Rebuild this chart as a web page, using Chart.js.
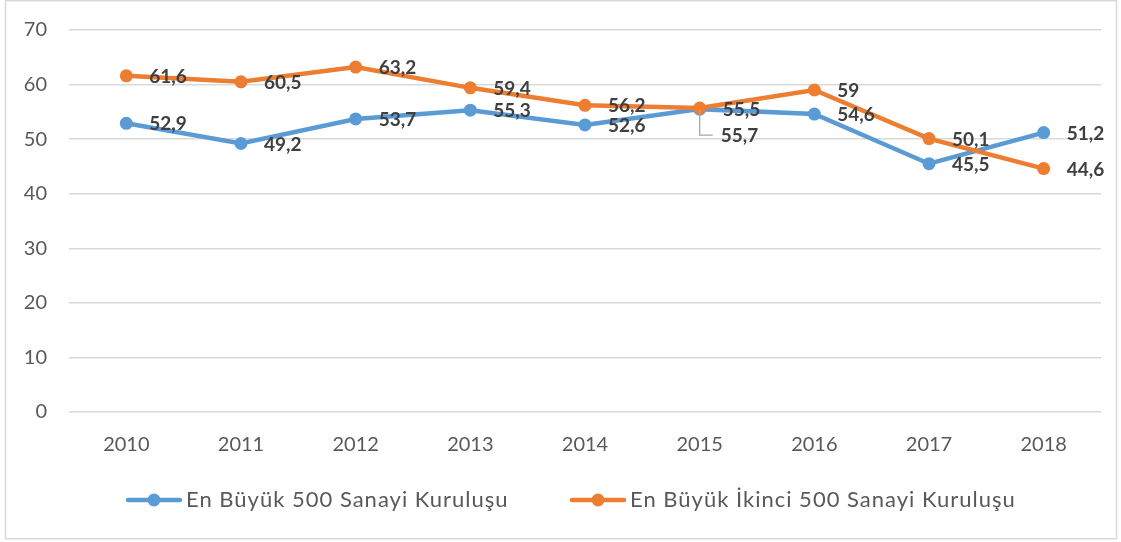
<!DOCTYPE html>
<html>
<head>
<meta charset="utf-8">
<script src="https://cdn.jsdelivr.net/npm/chart.js@4"></script>
<style>
  html, body { margin: 0; padding: 0; background: #fff; }
  #wrap { width: 1121px; height: 542px; }
</style>
</head>
<body>
<div id="wrap"><canvas id="c" width="1121" height="542"></canvas></div>
<script>
const years = ['2010', '2011', '2012', '2013', '2014', '2015', '2016', '2017', '2018'];
const top500 = [52.9, 49.2, 53.7, 55.3, 52.6, 55.5, 54.6, 45.5, 51.2];
const second500 = [61.6, 60.5, 63.2, 59.4, 56.2, 55.7, 59, 50.1, 44.6];
const seriesNames = ['En Büyük 500 Sanayi Kuruluşu', 'En Büyük İkinci 500 Sanayi Kuruluşu'];
const yMin = 0, yMax = 70, yStep = 10;

const BLUE = '#5B9BD5';
const ORANGE = '#ED7D31';
const FONT = 'Lato, "Open Sans", sans-serif';
const LEGEND_FONT = 'Lato, "Open Sans", sans-serif';

function fmt(v) { return String(v).replace('.', ','); }

const frame = {
  id: 'frame',
  beforeDraw(chart) {
    const ctx = chart.ctx;
    ctx.save();
    ctx.fillStyle = '#fff';
    ctx.fillRect(0, 0, chart.width, chart.height);
    ctx.strokeStyle = '#D9D9D9';
    ctx.lineWidth = 1.5;
    ctx.strokeRect(5.5, 0.75, 1111, 538);
    ctx.restore();
  }
};

const valueLabels = {
  id: 'valueLabels',
  afterDatasetsDraw(chart) {
    const ctx = chart.ctx;
    ctx.save();
    ctx.font = 'bold 19px ' + FONT;
    ctx.fillStyle = '#404040';
    ctx.textAlign = 'left';
    ctx.textBaseline = 'middle';
    chart.data.datasets.forEach((ds, di) => {
      const meta = chart.getDatasetMeta(di);
      meta.data.forEach((pt, i) => {
        let dx = 23, dy = 1;
        if (ds.moved && ds.moved.includes(i)) {
          dx = 21; dy = 28;
          ctx.save();
          ctx.strokeStyle = '#A6A6A6';
          ctx.lineWidth = 1.3;
          ctx.beginPath();
          ctx.moveTo(pt.x, pt.y + 2);
          ctx.lineTo(pt.x, pt.y + 27);
          ctx.lineTo(pt.x + 13, pt.y + 27);
          ctx.stroke();
          ctx.restore();
        }
        ctx.fillText(fmt(ds.data[i]), pt.x + dx, pt.y + dy);
      });
    });
    ctx.restore();
  }
};

const legendPlugin = {
  id: 'customLegend',
  afterDraw(chart) {
    const ctx = chart.ctx;
    const items = [
      { x: 126, color: BLUE, text: seriesNames[0] },
      { x: 570, color: ORANGE, text: seriesNames[1] }
    ];
    const y = 500;
    ctx.save();
    items.forEach(it => {
      ctx.strokeStyle = it.color;
      ctx.lineWidth = 4.5;
      ctx.lineCap = 'round';
      ctx.beginPath();
      ctx.moveTo(it.x + 2, y);
      ctx.lineTo(it.x + 54, y);
      ctx.stroke();
      ctx.fillStyle = it.color;
      ctx.beginPath();
      ctx.arc(it.x + 28, y, 6.5, 0, Math.PI * 2);
      ctx.fill();
      ctx.fillStyle = '#595959';
      ctx.font = '22px ' + LEGEND_FONT;
      ctx.letterSpacing = '1px';
      ctx.textAlign = 'left';
      ctx.textBaseline = 'middle';
      ctx.fillText(it.text, it.x + 60, y);
    });
    ctx.restore();
  }
};

new Chart(document.getElementById('c'), {
  type: 'line',
  data: {
    labels: years,
    datasets: [
      {
        label: seriesNames[0],
        data: top500,
        borderColor: BLUE,
        backgroundColor: BLUE,
        borderWidth: 4.5,
        pointRadius: 6.5,
        pointBorderWidth: 0,
        pointHoverRadius: 6.5,
        tension: 0,
        order: 2
      },
      {
        label: seriesNames[1],
        data: second500,
        borderColor: ORANGE,
        backgroundColor: ORANGE,
        borderWidth: 4.5,
        pointRadius: 6.5,
        pointBorderWidth: 0,
        pointHoverRadius: 6.5,
        tension: 0,
        order: 1,
        moved: [5]
      }
    ]
  },
  options: {
    responsive: false,
    animation: false,
    devicePixelRatio: 1,
    layout: { padding: { left: 6, right: 20, top: 30, bottom: 0 } },
    plugins: {
      legend: { display: false },
      tooltip: { enabled: false }
    },
    scales: {
      x: {
        offset: true,
        grid: { display: false, drawTicks: false },
        border: { display: false },
        ticks: {
          color: '#595959',
          font: { family: FONT, size: 20 },
          padding: 21,
          maxRotation: 0
        },
        afterFit(scale) { scale.height = 130; }
      },
      y: {
        min: yMin,
        max: yMax,
        grid: { color: '#D9D9D9', lineWidth: 1.5, drawTicks: false },
        border: { display: false },
        ticks: {
          stepSize: yStep,
          color: '#595959',
          font: { family: FONT, size: 20 },
          padding: 22
        },
        afterFit(scale) {
          scale.width = 63;
          scale.paddingTop = 0;
          scale.paddingBottom = 0;
        }
      }
    }
  },
  plugins: [frame, valueLabels, legendPlugin]
});
</script>
</body>
</html>
